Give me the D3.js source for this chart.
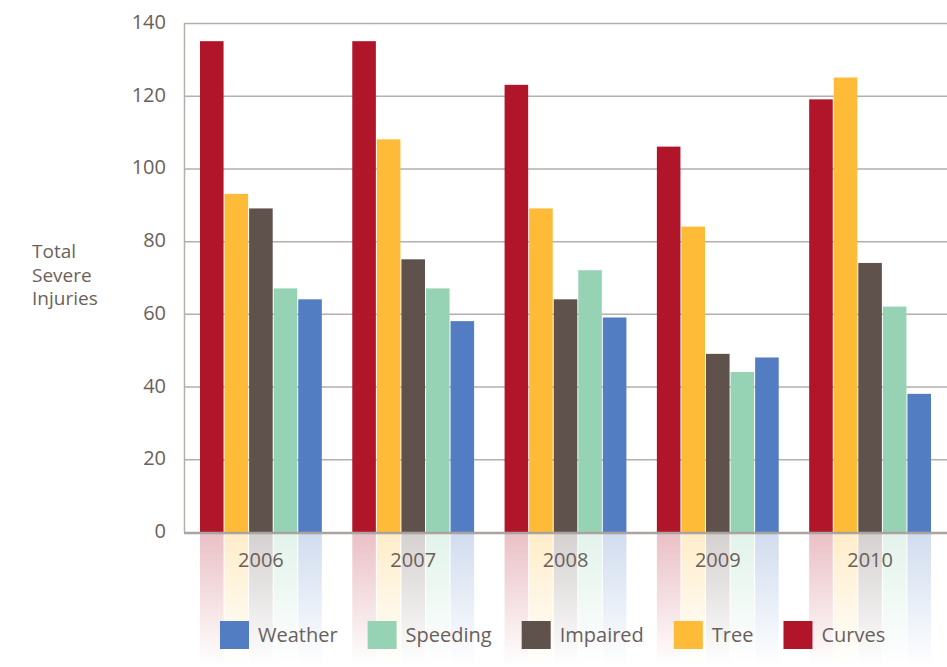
<!DOCTYPE html>
<html>
<head>
<meta charset="utf-8">
<script src="https://cdnjs.cloudflare.com/ajax/libs/d3/7.8.5/d3.min.js"></script>
<style>
body { margin: 0; background: #fff; }
svg text { font-family: "Open Sans", "DejaVu Sans", sans-serif; fill: #6b5f5b; }
</style>
</head>
<body>
<svg id="chart"></svg>
<script>
var width = 947;
var height = 667;

var years = ["2006", "2007", "2008", "2009", "2010"];
var series = ["Curves", "Tree", "Impaired", "Speeding", "Weather"];
var curves = [135, 135, 123, 106, 119];
var tree = [93, 108, 89, 84, 125];
var impaired = [89, 75, 64, 49, 74];
var speeding = [67, 67, 72, 44, 62];
var weather = [64, 58, 59, 48, 38];
var yTicks = [0, 20, 40, 60, 80, 100, 120, 140];
var legendOrder = ["Weather", "Speeding", "Impaired", "Tree", "Curves"];

var colors = {
    Curves: "#b0152a",
    Tree: "#fdbb38",
    Impaired: "#5f524d",
    Speeding: "#96d2b4",
    Weather: "#537dc2"
};

var values = {Curves: curves, Tree: tree, Impaired: impaired, Speeding: speeding, Weather: weather};

var rows = [];
years.forEach(function(yr, i) {
    series.forEach(function(s) {
        rows.push({year: yr, key: s, value: values[s][i]});
    });
});

var plotLeft = 184, plotRight = 947, plotTop = 23, plotBottom = 532;

var svg = d3.select("#chart")
    .attr("width", width)
    .attr("height", height);

var x0 = d3.scaleBand()
    .domain(years)
    .range([plotLeft, plotRight])
    .paddingInner(0.2)
    .paddingOuter(0.105);

var x1 = d3.scaleBand()
    .domain(series)
    .range([0, x0.bandwidth()])
    .paddingInner(0.04);

var y = d3.scaleLinear()
    .domain([0, 140])
    .range([plotBottom, plotTop]);

var defs = svg.append("defs");
series.forEach(function(s) {
    var g = defs.append("linearGradient")
        .attr("id", "refl-" + s)
        .attr("x1", 0).attr("y1", 0)
        .attr("x2", 0).attr("y2", 1);
    g.append("stop").attr("offset", "0%").attr("stop-color", colors[s]).attr("stop-opacity", 0.27);
    g.append("stop").attr("offset", "100%").attr("stop-color", colors[s]).attr("stop-opacity", 0.0);
});

// gridlines
svg.append("g")
    .selectAll("line")
    .data(yTicks.filter(function(d) { return d > 0; }))
    .enter()
    .append("line")
    .attr("x1", plotLeft)
    .attr("x2", plotRight)
    .attr("y1", function(d) { return y(d) + 0.5; })
    .attr("y2", function(d) { return y(d) + 0.5; })
    .attr("stroke", "#b5aeab")
    .attr("stroke-width", 1.5);

// left axis line
svg.append("line")
    .attr("x1", plotLeft + 0.5).attr("x2", plotLeft + 0.5)
    .attr("y1", plotTop).attr("y2", plotBottom)
    .attr("stroke", "#b5aeab")
    .attr("stroke-width", 1.5);

// tick labels
svg.append("g")
    .selectAll("text")
    .data(yTicks)
    .enter()
    .append("text")
    .attr("x", 166)
    .attr("y", function(d) { return y(d); })
    .attr("dy", "0.3em")
    .attr("text-anchor", "end")
    .attr("font-size", "20px")
    .text(function(d) { return d; });

// reflections
svg.append("g")
    .selectAll("rect")
    .data(rows)
    .enter()
    .append("rect")
    .attr("x", function(d) { return x0(d.year) + x1(d.key); })
    .attr("y", plotBottom)
    .attr("width", x1.bandwidth())
    .attr("height", height - plotBottom)
    .attr("fill", function(d) { return "url(#refl-" + d.key + ")"; });

// bars
svg.append("g")
    .selectAll("rect")
    .data(rows)
    .enter()
    .append("rect")
    .attr("x", function(d) { return x0(d.year) + x1(d.key); })
    .attr("y", function(d) { return y(d.value); })
    .attr("width", x1.bandwidth())
    .attr("height", function(d) { return plotBottom - y(d.value); })
    .attr("fill", function(d) { return colors[d.key]; });

// baseline
svg.append("line")
    .attr("x1", plotLeft).attr("x2", plotRight)
    .attr("y1", plotBottom + 1).attr("y2", plotBottom + 1)
    .attr("stroke", "#aaa3a0")
    .attr("stroke-width", 2.5);

// year labels
svg.append("g")
    .selectAll("text")
    .data(years)
    .enter()
    .append("text")
    .attr("x", function(d) { return x0(d) + x0.bandwidth() / 2; })
    .attr("y", 567)
    .attr("text-anchor", "middle")
    .attr("font-size", "20px")
    .text(function(d) { return d; });

// y title
var title = svg.append("text")
    .attr("x", 32)
    .attr("y", 258)
    .attr("font-size", "19px");
["Total", "Severe", "Injuries"].forEach(function(t, i) {
    title.append("tspan")
        .attr("x", 32)
        .attr("dy", i == 0 ? 0 : 23.5)
        .text(t);
});

// legend
var lx = 220;
legendOrder.forEach(function(s) {
    var g = svg.append("g");
    g.append("rect")
        .attr("x", lx)
        .attr("y", 621)
        .attr("width", 29)
        .attr("height", 28)
        .attr("fill", colors[s]);
    var t = g.append("text")
        .attr("x", lx + 38)
        .attr("y", 642)
        .attr("font-size", "20px")
        .text(s);
    lx = lx + 38 + t.node().getComputedTextLength() + 30;
});
</script>
</body>
</html>
